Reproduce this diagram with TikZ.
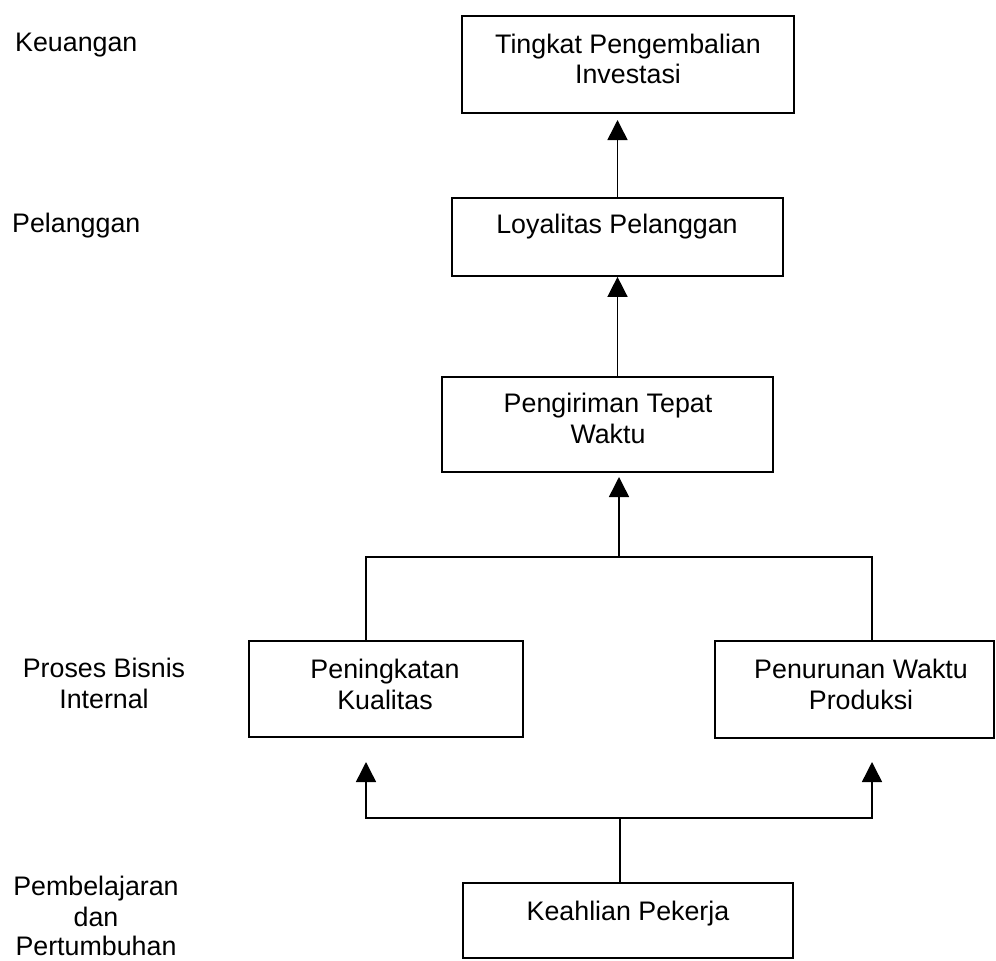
\documentclass[tikz,border=0pt]{standalone}
\usepackage{fontspec}
\setmainfont{Liberation Sans}
\usetikzlibrary{arrows.meta}
\begin{document}
\begin{tikzpicture}[x=1pt, y=-1pt,
  box/.style={draw, line width=1.7pt, inner sep=0pt, rectangle},
  txt/.style={anchor=base, inner sep=0pt, font=\fontsize{26.8}{31}\selectfont},
  side/.style={txt},
  link/.style={line width=1.5pt},
  arr/.style={link, -{Triangle[length=20pt,width=20pt]}}]
\useasboundingbox (0,0) rectangle (996,961);

% perspective labels on the left
\node[side, anchor=base west] (lab1) at (15,51) {Keuangan};
\node[side, anchor=base west] (lab2) at (12,232) {Pelanggan};
\node[side] (lab3a) at (104,677) {Proses Bisnis};
\node[side] (lab3b) at (104,708) {Internal};
\node[side] (lab4a) at (96,895) {Pembelajaran};
\node[side] (lab4b) at (96,926) {dan};
\node[side] (lab4c) at (96,955) {Pertumbuhan};

% boxes
\node[box, minimum width=332pt, minimum height=97pt] (inv)  at (628,64.5)   {};
\node[box, minimum width=331pt, minimum height=78pt] (loy)  at (617.5,237)  {};
\node[box, minimum width=331pt, minimum height=95pt] (kir)  at (607.5,424.5){};
\node[box, minimum width=274pt, minimum height=96pt] (kual) at (386,689)    {};
\node[box, minimum width=279pt, minimum height=97pt] (prod) at (854.5,689.5){};
\node[box, minimum width=330pt, minimum height=75pt] (ahli) at (628,920.5)  {};

% box texts
\node[txt] (inv-a)  at (628,53)  {Tingkat Pengembalian};
\node[txt] (inv-b)  at (628,83)  {Investasi};
\node[txt] (loy-a)  at (617,233) {Loyalitas Pelanggan};
\node[txt] (kir-a)  at (608,412) {Pengiriman Tepat};
\node[txt] (kir-b)  at (608,443) {Waktu};
\node[txt] (kual-a) at (385,678) {Peningkatan};
\node[txt] (kual-b) at (385,709) {Kualitas};
\node[txt] (prod-a) at (861,678) {Penurunan Waktu};
\node[txt] (prod-b) at (861,709) {Produksi};
\node[txt] (ahli-a) at (628,920) {Keahlian Pekerja};

% junction points and free arrow tips
\coordinate (tip1) at (617.5,120);
\coordinate (jl) at (366,557);
\coordinate (jr) at (872,557);
\coordinate (jm) at (619,557);
\coordinate (tip3) at (619,477);
\coordinate (bl) at (366,818);
\coordinate (br) at (872,818);
\coordinate (bm) at (620,818);
\coordinate (tipL) at (366,762);
\coordinate (tipR) at (872,762);

% connectors
\draw[arr] (loy.north) -- (tip1);
\draw[arr] (kir.north -| loy.south) -- (loy.south);
\draw[link] (kual.north -| jl) -- (jl) -- (jr) -- (prod.north -| jr);
\draw[arr] (jm) -- (tip3);
\draw[link] (ahli.north -| bm) -- (bm);
\draw[arr] (bm) -- (bl) -- (tipL);
\draw[arr] (bm) -- (br) -- (tipR);
\end{tikzpicture}
\end{document}
